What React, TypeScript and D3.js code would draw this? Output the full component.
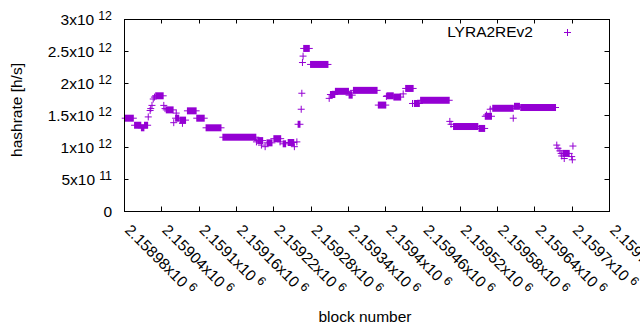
import * as d3 from "d3";
import React from "react";

// runs of consecutive blocks with the same hashrate: [first block, last block, hashrate]
const plateaus: [number, number, number][] = [
  [2158982, 2158995, 1.45e12],
  [2158997, 2159007, 1.34e12],
  [2159008, 2159012, 1.3e12],
  [2159013, 2159018, 1.34e12],
  [2159031, 2159043, 1.8e12],
  [2159048, 2159059, 1.58e12],
  [2159063, 2159068, 1.45e12],
  [2159070, 2159079, 1.42e12],
  [2159082, 2159096, 1.565e12],
  [2159097, 2159109, 1.45e12],
  [2159112, 2159136, 1.3e12],
  [2159139, 2159192, 1.153e12],
  [2159195, 2159203, 1.1e12],
  [2159210, 2159218, 1.065e12],
  [2159221, 2159232, 1.13e12],
  [2159236, 2159240, 1.05e12],
  [2159244, 2159253, 1.07e12],
  [2159260, 2159263, 1.355e12],
  [2159269, 2159278, 2.54e12],
  [2159280, 2159308, 2.29e12],
  [2159312, 2159319, 1.82e12],
  [2159320, 2159341, 1.87e12],
  [2159342, 2159347, 1.81e12],
  [2159349, 2159387, 1.885e12],
  [2159389, 2159401, 1.655e12],
  [2159403, 2159413, 1.8e12],
  [2159414, 2159425, 1.78e12],
  [2159433, 2159445, 1.915e12],
  [2159447, 2159455, 1.68e12],
  [2159457, 2159503, 1.73e12],
  [2159510, 2159549, 1.32e12],
  [2159551, 2159560, 1.29e12],
  [2159561, 2159571, 1.48e12],
  [2159573, 2159606, 1.605e12],
  [2159608, 2159616, 1.636e12],
  [2159618, 2159674, 1.617e12],
  [2159686, 2159696, 0.9e12],
];

// single blocks: [block, hashrate]
const singles: [number, number][] = [
  [2159019, 1.47e12], [2159022, 1.57e12], [2159023, 1.6e12], [2159025, 1.65e12],
  [2159027, 1.75e12], [2159029, 1.78e12], [2159044, 1.65e12], [2159046, 1.6e12],
  [2159060, 1.38e12], [2159064, 1.53e12], [2159074, 1.37e12], [2159193, 1.08e12],
  [2159201, 1.03e12], [2159207, 1.005e12], [2159231, 1.08e12], [2159254, 1.005e12],
  [2159258, 1.08e12], [2159265, 1.59e12], [2159266, 1.84e12], [2159267, 2.32e12],
  [2159268, 2.42e12], [2159310, 1.76e12], [2159402, 1.79e12], [2159429, 1.83e12],
  [2159444, 1.68e12], [2159504, 1.4e12], [2159506, 1.355e12], [2159563, 1.5e12],
  [2159569, 1.59e12], [2159606, 1.45e12], [2159676, 1.03e12], [2159678, 0.98e12],
  [2159681, 0.94e12], [2159683, 0.9e12], [2159684, 0.86e12], [2159688, 0.82e12],
  [2159700, 0.85e12], [2159701, 0.8e12], [2159702, 1.015e12],
];

const xTicks = [
  2158980, 2159040, 2159100, 2159160, 2159220, 2159280, 2159340,
  2159400, 2159460, 2159520, 2159580, 2159640, 2159700, 2159760,
];
const xTickLabels = [
  "2.15898", "2.15904", "2.1591", "2.15916", "2.15922", "2.15928", "2.15934",
  "2.1594", "2.15946", "2.15952", "2.15958", "2.15964", "2.1597", "2.15976",
];
const yTicks = [0, 0.5e12, 1e12, 1.5e12, 2e12, 2.5e12, 3e12];
const yMantissa = ["0", "5", "1", "1.5", "2", "2.5", "3"];
const yExponent = ["", "11", "12", "12", "12", "12", "12"];

const W = 640;
const H = 330;
const left = 124;
const right = 609;
const top = 19;
const bottom = 211;
const color = "#9400d3";
const font = "'Liberation Sans', Arial, sans-serif";
const h = 3; // half size of the + marks

export default function App() {
  const x = d3.scaleLinear().domain([2158980, 2159760]).range([left, right]);
  const y = d3.scaleLinear().domain([0, 3e12]).range([bottom, top]);

  const runs: [number, number, number][] = [
    ...plateaus,
    ...singles.map(([b, v]) => [b, b, v] as [number, number, number]),
  ];

  return (
    <svg width={W} height={H} style={{ position: "absolute", left: 0, top: 0 }} fontFamily={font}>
      <rect width={W} height={H} fill="white" />

      {/* ticks */}
      <g stroke="black" strokeWidth={1}>
        {yTicks.map((t) => (
          <g key={t}>
            <line x1={left} x2={left + 4.5} y1={Math.round(y(t)) + 0.5} y2={Math.round(y(t)) + 0.5} />
            <line x1={right} x2={right - 4.5} y1={Math.round(y(t)) + 0.5} y2={Math.round(y(t)) + 0.5} />
          </g>
        ))}
        {xTicks.map((t) => (
          <g key={t}>
            <line x1={Math.round(x(t)) + 0.5} x2={Math.round(x(t)) + 0.5} y1={bottom} y2={bottom - 4.5} />
            <line x1={Math.round(x(t)) + 0.5} x2={Math.round(x(t)) + 0.5} y1={top} y2={top + 4.5} />
          </g>
        ))}
      </g>

      {/* y labels */}
      {yTicks.map((t, i) => (
        <text key={t} x={112} y={y(t) + 5.5} textAnchor="end" fontSize={15.5} fill="black">
          {yExponent[i] ? `${yMantissa[i]}x10` : yMantissa[i]}
          {yExponent[i] && (
            <tspan dx={4} dy={-5} fontSize={12.4}>
              {yExponent[i]}
            </tspan>
          )}
        </text>
      ))}

      {/* x labels */}
      {xTicks.map((t, i) => (
        <text
          key={t}
          transform={`translate(${x(t)},231) rotate(45)`}
          fontSize={15.5}
          fill="black"
        >
          {xTickLabels[i]}x10
          <tspan dx={4} dy={-5} fontSize={12.4}>
            6
          </tspan>
        </text>
      ))}

      {/* data */}
      <g fill={color} stroke={color}>
        {runs.map(([b0, b1, v], i) => {
          const x0 = x(b0);
          const x1 = x(b1);
          const yy = y(v);
          return (
            <g key={i}>
              <rect x={x0 - 0.5} y={yy - h - 0.5} width={x1 - x0 + 1} height={2 * h + 1} stroke="none" />
              <line x1={x0 - h - 0.5} x2={x1 + h + 0.5} y1={yy} y2={yy} strokeWidth={1} />
            </g>
          );
        })}
      </g>

      {/* border */}
      <rect
        x={left + 0.5}
        y={top + 0.5}
        width={right - left}
        height={bottom - top}
        fill="none"
        stroke="black"
        strokeWidth={1}
      />

      {/* legend */}
      <text x={533} y={37} textAnchor="end" fontSize={15.5} fill="black">
        LYRA2REv2
      </text>
      <g stroke={color} strokeWidth={1}>
        <line x1={567.5 - h - 0.5} x2={567.5 + h + 0.5} y1={32.5} y2={32.5} />
        <line x1={567.5} x2={567.5} y1={32.5 - h - 0.5} y2={32.5 + h + 0.5} />
      </g>

      {/* axis titles */}
      <text transform="translate(22,110) rotate(-90)" textAnchor="middle" fontSize={15.5} fill="black">
        hashrate [h/s]
      </text>
      <text x={365} y={322} textAnchor="middle" fontSize={15.5} fill="black">
        block number
      </text>
    </svg>
  );
}
